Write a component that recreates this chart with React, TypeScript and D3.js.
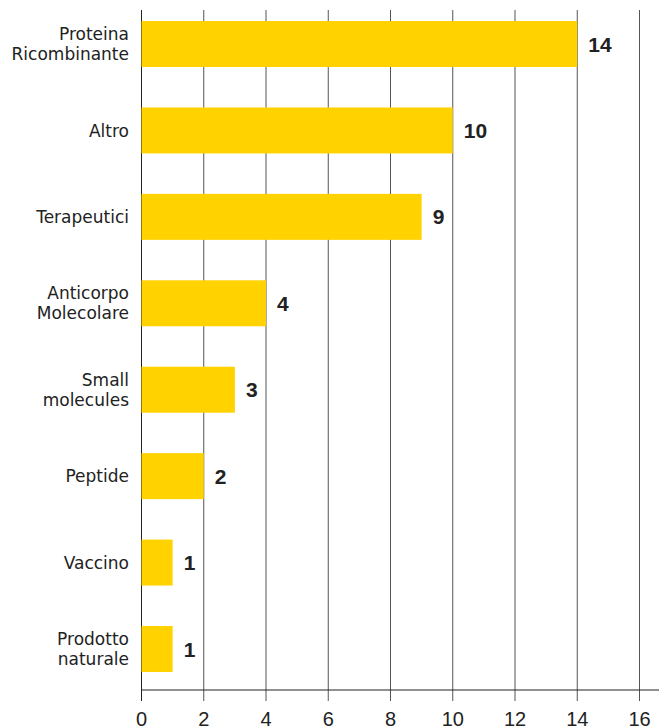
import React from "react";
import * as d3 from "d3";

const categories: string[][] = [
  ["Proteina", "Ricombinante"],
  ["Altro"],
  ["Terapeutici"],
  ["Anticorpo", "Molecolare"],
  ["Small", "molecules"],
  ["Peptide"],
  ["Vaccino"],
  ["Prodotto", "naturale"],
];
const values: number[] = [14, 10, 9, 4, 3, 2, 1, 1];
const xTicks: number[] = [0, 2, 4, 6, 8, 10, 12, 14, 16];

const W = 659;
const H = 728;
const FONT = "'Liberation Sans', Arial, sans-serif";
const LABEL_FONT = "'DejaVu Sans', 'Liberation Sans', sans-serif";

export default function App() {
  const x = d3.scaleLinear().domain([0, 16]).range([141.5, 639.5]);
  const keys = categories.map((c) => c.join(" "));
  const y = d3
    .scaleBand<string>()
    .domain(keys)
    .range([0.8, 692.2])
    .paddingInner(0.468)
    .paddingOuter(0.234);
  const axisY = 690;
  const gridTop = 10;

  return (
    <svg
      width={W}
      height={H}
      style={{ position: "absolute", left: 0, top: 0, display: "block" }}
      fontFamily={FONT}
    >
      <rect x={0} y={0} width={W} height={H} fill="#fff" />
      {xTicks.map((t) => (
        <line
          key={"g" + t}
          x1={x(t)}
          x2={x(t)}
          y1={gridTop}
          y2={axisY + 11}
          stroke={t === 0 ? "#222" : "#555"}
          strokeWidth={1}
        />
      ))}
      {values.map((v, i) => {
        const k = keys[i];
        const y0 = y(k)!;
        const bh = y.bandwidth();
        const cy = y0 + bh / 2;
        const lines = categories[i];
        const lh = 20;
        return (
          <g key={k}>
            <rect x={x(0)} y={y0} width={x(v) - x(0)} height={bh} fill="#FFD200" />
            <text
              x={x(v) + 11}
              y={cy}
              dy="0.36em"
              fontSize={21}
              fontWeight="bold"
              fill="#222"
            >
              {v}
            </text>
            {lines.map((ln, j) => (
              <text
                key={j}
                x={129}
                y={cy + (j - (lines.length - 1) / 2) * lh}
                dy="0.36em"
                textAnchor="end"
                fontSize={17}
                fontFamily={LABEL_FONT}
                fill="#222"
              >
                {ln}
              </text>
            ))}
          </g>
        );
      })}
      <line x1={x(0)} x2={W} y1={axisY} y2={axisY} stroke="#222" strokeWidth={1} />
      {xTicks.map((t) => (
        <text
          key={"t" + t}
          x={x(t)}
          y={725.5}
          textAnchor="middle"
          fontSize={20}
          fill="#222"
        >
          {t}
        </text>
      ))}
    </svg>
  );
}
